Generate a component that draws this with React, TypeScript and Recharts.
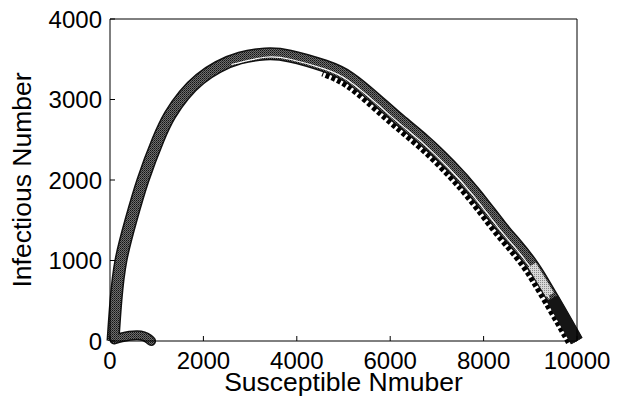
import { LineChart, Line, XAxis, YAxis } from "recharts";

// main trajectory (centre of the thick grey band), S -> I
const mainS = [10000, 9784, 9463, 9249, 9013, 8692, 8350, 7815, 7279, 6744, 6209, 5695, 5139, 4604, 3854, 3319, 2783, 2312, 1927, 1584, 1285, 1028, 707, 450, 236, 128, 64];
const mainI = [0, 224, 547, 758, 969, 1205, 1441, 1838, 2186, 2484, 2745, 3006, 3267, 3416, 3540, 3565, 3515, 3403, 3254, 3055, 2807, 2497, 2000, 1503, 1006, 509, 0];

// thin white trajectory running inside the band
const lowS = [9408, 9194, 8961, 8643, 8300, 7765, 7232, 6699, 6165, 5654, 5108, 4585, 3854, 3319, 2600];
const lowI = [528, 738, 947, 1181, 1418, 1815, 2161, 2458, 2719, 2978, 3234, 3381, 3500, 3525, 3435];

// triangle-marker trajectory on the lower side of the falling branch
const triS = [9880, 9692, 9371, 9157, 8926, 8610, 8267, 7732, 7201, 6669, 6136, 5627, 5088, 4573];
const triI = [0, 193, 516, 725, 933, 1165, 1402, 1800, 2144, 2440, 2701, 2959, 3212, 3357];

// light grey piece and dark tail near S = 10000
const lightS = [9036, 9422];
const lightI = [944, 571];
const tailS = [9470, 9780, 9990];
const tailI = [530, 215, 0];

// small hump at the bottom left
const bumpS = [90, 250, 420, 580, 720, 820, 880];
const bumpI = [20, 45, 65, 72, 60, 30, 0];

const xTicks = [0, 2000, 4000, 6000, 8000, 10000];
const yTicks = [0, 1000, 2000, 3000, 4000];

const toRows = (s: number[], i: number[]) => s.map((v, k) => ({ s: v, i: i[k] }));

const mainData = toRows(mainS, mainI);
const lowData = toRows(lowS, lowI);
const triData = toRows(triS, triI);
const lightData = toRows(lightS, lightI);
const tailData = toRows(tailS, tailI);
const bumpData = toRows(bumpS, bumpI);

const font = "'Liberation Sans', Arial, sans-serif";

export default function App() {
  return (
    <div style={{ position: "absolute", left: 0, top: 0, background: "#fff", fontFamily: font }}>
      <LineChart width={618} height={402} margin={{ top: 18, right: 40, bottom: 0, left: 0 }}>
        <defs>
          <pattern id="stip" width="2" height="2" patternUnits="userSpaceOnUse">
            <rect width="2" height="2" fill="#6e6e6e" />
            <rect width="1" height="1" fill="#121212" />
            <rect x="1" y="1" width="1" height="1" fill="#333" />
          </pattern>
          <pattern id="stipLight" width="2" height="2" patternUnits="userSpaceOnUse">
            <rect width="2" height="2" fill="#d8d8d8" />
            <rect width="1" height="1" fill="#888" />
          </pattern>
        </defs>
        <XAxis
          xAxisId="b"
          dataKey="s"
          type="number"
          domain={[0, 10000]}
          ticks={xTicks}
          height={61}
          stroke="#000"
          tickSize={-5}
          tickMargin={16}
          tick={{ fill: "#000", fontSize: 24, fontFamily: font }}
          label={{ value: "Susceptible Nmuber", position: "insideBottom", offset: 11, fill: "#000", fontSize: 26.5, fontFamily: font }}
        />
        <XAxis
          xAxisId="t"
          orientation="top"
          dataKey="s"
          type="number"
          domain={[0, 10000]}
          ticks={xTicks}
          height={1}
          stroke="#000"
          tickSize={-5}
          tickFormatter={() => ""}
        />
        <YAxis
          yAxisId="l"
          type="number"
          domain={[0, 4000]}
          ticks={yTicks}
          width={110}
          stroke="#000"
          tickSize={-5}
          tickMargin={13}
          tick={{ fill: "#000", fontSize: 24, fontFamily: font }}
          label={{ value: "Infectious Number", angle: -90, position: "insideLeft", offset: 22, fill: "#000", fontSize: 26.5, fontFamily: font, style: { textAnchor: "middle" } }}
        />
        <YAxis
          yAxisId="r"
          orientation="right"
          type="number"
          domain={[0, 4000]}
          ticks={yTicks}
          width={1}
          stroke="#000"
          tickSize={-5}
          tickFormatter={() => ""}
        />
        <Line xAxisId="b" yAxisId="l" data={triData} dataKey="i" type="natural" stroke="#000" strokeWidth={12} strokeDasharray="4 2.5" dot={false} activeDot={false} isAnimationActive={false} />
        <Line xAxisId="b" yAxisId="l" data={mainData} dataKey="i" type="natural" stroke="#111" strokeWidth={13} strokeLinejoin="round" dot={false} activeDot={false} isAnimationActive={false} />
        <Line xAxisId="b" yAxisId="l" data={bumpData} dataKey="i" type="natural" stroke="#111" strokeWidth={10} strokeLinecap="round" dot={false} activeDot={false} isAnimationActive={false} />
        <Line xAxisId="b" yAxisId="l" data={mainData} dataKey="i" type="natural" stroke="url(#stip)" strokeWidth={10} dot={false} activeDot={false} isAnimationActive={false} />
        <Line xAxisId="b" yAxisId="l" data={bumpData} dataKey="i" type="natural" stroke="url(#stip)" strokeWidth={7} strokeLinecap="round" dot={false} activeDot={false} isAnimationActive={false} />
        <Line xAxisId="b" yAxisId="l" data={lowData} dataKey="i" type="natural" stroke="#fff" strokeWidth={1.2} dot={false} activeDot={false} isAnimationActive={false} />
        <Line xAxisId="b" yAxisId="l" data={tailData} dataKey="i" type="natural" stroke="#151515" strokeWidth={13} dot={false} activeDot={false} isAnimationActive={false} />
        <Line xAxisId="b" yAxisId="l" data={lightData} dataKey="i" type="linear" stroke="url(#stipLight)" strokeWidth={9} dot={false} activeDot={false} isAnimationActive={false} />
      </LineChart>
    </div>
  );
}
